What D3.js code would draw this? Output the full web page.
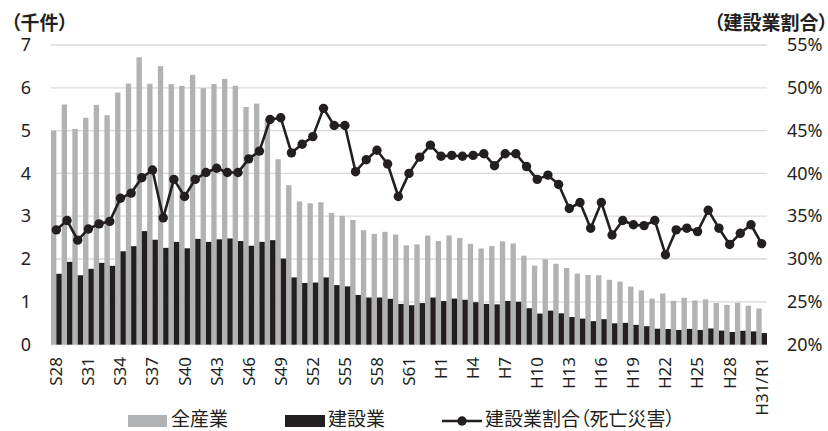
<!DOCTYPE html>
<html>
<head>
<meta charset="utf-8">
<script src="https://cdn.jsdelivr.net/npm/d3@7"></script>
<style>
  html, body { margin: 0; padding: 0; background: #fff; }
  svg { display: block; font-family: "Noto Sans", "Noto Sans CJK JP", sans-serif; }
  .jp { font-family: "Noto Sans CJK JP", sans-serif; font-feature-settings: "palt"; }
</style>
</head>
<body>
<svg id="chart" width="828" height="431"></svg>
<script>
// 年次（昭和28年〜令和元年）
const years = [
  "S28","S29","S30","S31","S32","S33","S34","S35","S36","S37","S38","S39",
  "S40","S41","S42","S43","S44","S45","S46","S47","S48","S49","S50","S51",
  "S52","S53","S54","S55","S56","S57","S58","S59","S60","S61","S62","S63",
  "H1","H2","H3","H4","H5","H6","H7","H8","H9","H10","H11","H12","H13","H14",
  "H15","H16","H17","H18","H19","H20","H21","H22","H23","H24","H25","H26",
  "H27","H28","H29","H30","H31/R1"
];

// 死亡災害件数（千件）：全産業
const allIndustries = [
  5.00, 5.61, 5.04, 5.30, 5.60, 5.36, 5.89, 6.10, 6.712, 6.093, 6.506, 6.086,
  6.046, 6.303, 5.990, 6.088, 6.208, 6.048, 5.552, 5.631, 5.269, 4.330, 3.725, 3.345,
  3.302, 3.326, 3.077, 3.009, 2.912, 2.674, 2.588, 2.635, 2.572, 2.318, 2.342, 2.549,
  2.419, 2.550, 2.489, 2.354, 2.245, 2.301, 2.414, 2.363, 2.078, 1.844, 1.992, 1.889,
  1.790, 1.658, 1.628, 1.620, 1.514, 1.472, 1.357, 1.268, 1.075, 1.195, 1.024, 1.093,
  1.030, 1.057, 0.972, 0.928, 0.978, 0.909, 0.845
];

// 死亡災害件数（千件）：建設業
const construction = [
  1.655, 1.934, 1.62, 1.77, 1.91, 1.84, 2.18, 2.30, 2.652, 2.45, 2.26, 2.40,
  2.25, 2.47, 2.40, 2.46, 2.48, 2.42, 2.31, 2.40, 2.44, 2.01, 1.57, 1.44,
  1.45, 1.57, 1.39, 1.36, 1.16, 1.10, 1.10, 1.07, 0.95, 0.92, 0.97, 1.10,
  1.017, 1.075, 1.048, 0.99, 0.95, 0.94, 1.02, 1.00, 0.85, 0.725, 0.794, 0.731,
  0.644, 0.607, 0.548, 0.594, 0.497, 0.508, 0.461, 0.430, 0.371, 0.365, 0.342, 0.367,
  0.342, 0.377, 0.327, 0.294, 0.323, 0.309, 0.269
];

// 建設業割合（%）
const constructionShare = [
  33.4, 34.5, 32.2, 33.5, 34.1, 34.4, 37.1, 37.7, 39.5, 40.4, 34.8, 39.3,
  37.3, 39.3, 40.1, 40.6, 40.1, 40.1, 41.7, 42.6, 46.3, 46.5, 42.4, 43.4,
  44.3, 47.6, 45.6, 45.6, 40.2, 41.6, 42.7, 41.1, 37.3, 40.0, 41.9, 43.3,
  42.0, 42.1, 42.0, 42.1, 42.3, 40.9, 42.3, 42.3, 40.8, 39.3, 39.8, 38.7,
  35.9, 36.6, 33.6, 36.6, 32.8, 34.5, 34.0, 33.9, 34.5, 30.5, 33.4, 33.6,
  33.2, 35.7, 33.6, 31.7, 33.0, 34.0, 31.8
];

const leftTicks = [0, 1, 2, 3, 4, 5, 6, 7];
const rightTicks = [20, 25, 30, 35, 40, 45, 50, 55];

const seriesNames = ["全産業", "建設業", "建設業割合（死亡災害）"];
const leftTitle = "（千件）";
const rightTitle = "（建設業割合）";

const colGray = "#b1b2b4";
const colDark = "#231f20";

const svg = d3.select("#chart");
const plot = { left: 51, right: 767, top: 45, bottom: 344.6 };

const x = d3.scaleBand().domain(years).range([plot.left, plot.right]).paddingInner(0).paddingOuter(0);
const y = d3.scaleLinear().domain([0, 7]).range([plot.bottom, plot.top]);
const yR = d3.scaleLinear().domain([20, 55]).range([plot.bottom, plot.top]);
const bw = x.bandwidth();

// 目盛線
svg.append("g").selectAll("line").data(leftTicks).join("line")
  .attr("x1", plot.left).attr("x2", plot.right)
  .attr("y1", d => y(d)).attr("y2", d => y(d))
  .attr("stroke", "#d9d9d9").attr("stroke-width", 1.3);

// 左軸
const axL = svg.append("g").attr("transform", `translate(${plot.left - 20},0)`)
  .call(d3.axisLeft(y).tickValues(leftTicks).tickSize(0).tickPadding(0).tickFormat(d3.format("d")));
axL.select(".domain").remove();
axL.selectAll("text").attr("font-size", 18).attr("fill", "#231f20")
  .attr("font-family", "'Noto Sans', sans-serif");

// 右軸
const axR = svg.append("g").attr("transform", `translate(${plot.right + 20},0)`)
  .call(d3.axisRight(yR).tickValues(rightTicks).tickSize(0).tickPadding(0).tickFormat(d => d + "%"));
axR.select(".domain").remove();
axR.selectAll("text").attr("font-size", 18).attr("fill", "#231f20")
  .attr("font-family", "'Noto Sans', sans-serif");

// 棒：全産業（左半分）・建設業（右半分）
svg.append("g").selectAll("rect").data(years).join("rect")
  .attr("x", d => x(d)).attr("width", bw / 2)
  .attr("y", (d, i) => y(allIndustries[i]))
  .attr("height", (d, i) => y(0) - y(allIndustries[i]))
  .attr("fill", colGray);

svg.append("g").selectAll("rect").data(years).join("rect")
  .attr("x", d => x(d) + bw / 2).attr("width", bw / 2)
  .attr("y", (d, i) => y(construction[i]))
  .attr("height", (d, i) => y(0) - y(construction[i]))
  .attr("fill", colDark);

// 折れ線：建設業割合
const line = d3.line().x((d, i) => x(years[i]) + bw / 2).y(d => yR(d));
svg.append("path").datum(constructionShare)
  .attr("d", line).attr("fill", "none")
  .attr("stroke", colDark).attr("stroke-width", 2.6).attr("stroke-linejoin", "round");
svg.append("g").selectAll("circle").data(constructionShare).join("circle")
  .attr("cx", (d, i) => x(years[i]) + bw / 2).attr("cy", d => yR(d))
  .attr("r", 4.7).attr("fill", colDark);

// 横軸ラベル（3年ごと）
svg.append("g").selectAll("text")
  .data(years.filter((d, i) => i % 3 === 0)).join("text")
  .attr("transform", d => `translate(${x(d) + bw / 2},357) rotate(-90)`)
  .attr("text-anchor", "end").attr("dy", "0.35em")
  .attr("font-size", 17).attr("fill", "#231f20")
  .attr("font-family", "'Noto Sans', sans-serif")
  .text(d => d);

// 軸タイトル
svg.append("text").attr("class", "jp").attr("x", 11).attr("y", 30)
  .attr("font-size", 19).attr("font-weight", 700).attr("fill", "#231f20")
  .text(leftTitle);
svg.append("text").attr("class", "jp").attr("x", 828).attr("y", 30)
  .attr("text-anchor", "end")
  .attr("font-size", 19).attr("font-weight", 700).attr("fill", "#231f20")
  .text(rightTitle);

// 凡例
const lg = svg.append("g").attr("class", "jp").attr("font-size", 19).attr("fill", "#231f20");
lg.append("rect").attr("x", 128).attr("y", 415).attr("width", 39).attr("height", 12).attr("fill", colGray);
lg.append("text").attr("x", 171).attr("y", 426).text(seriesNames[0]);
lg.append("rect").attr("x", 285).attr("y", 415).attr("width", 40).attr("height", 12).attr("fill", colDark);
lg.append("text").attr("x", 328).attr("y", 426).text(seriesNames[1]);
lg.append("line").attr("x1", 442).attr("x2", 482).attr("y1", 421).attr("y2", 421)
  .attr("stroke", colDark).attr("stroke-width", 2.6);
lg.append("circle").attr("cx", 462).attr("cy", 421).attr("r", 4.7).attr("fill", colDark);
lg.append("text").attr("x", 485).attr("y", 426).text(seriesNames[2]);
</script>
</body>
</html>
